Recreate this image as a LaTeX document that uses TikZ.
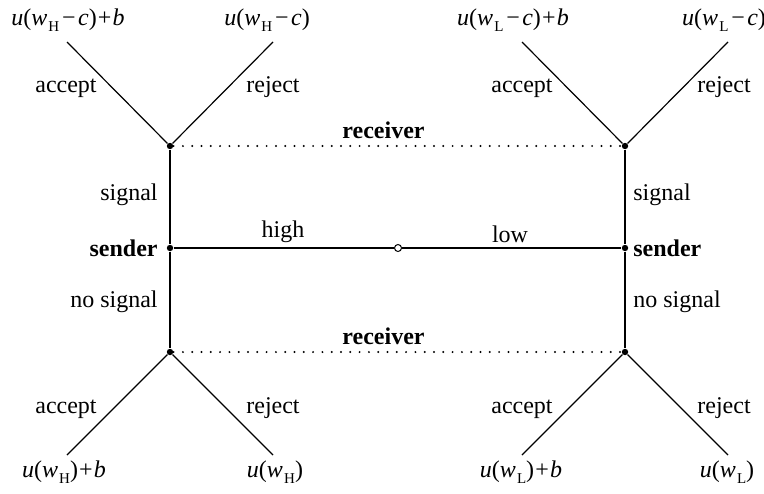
\documentclass[tikz,border=0pt]{standalone}
\usepackage{fontspec}
\setmainfont{Liberation Serif}
\newcommand{\mneg}{\kern0.12em\char"2212\kern0.1em}
\newcommand{\mplus}{\kern0.05em+\kern0.05em}
\newcommand{\sbH}{\kern0.05em\raisebox{-0.55ex}{\fontsize{7.5}{8}\selectfont H}}
\newcommand{\sbL}{\kern0.05em\raisebox{-0.55ex}{\fontsize{7.5}{8}\selectfont L}}
\begin{document}
\begin{tikzpicture}[x=0.5pt,y=-0.5pt,
  every node/.style={font=\fontsize{12}{14}\selectfont},
  lab/.style={inner sep=0pt,anchor=base},
  labe/.style={inner sep=0pt,anchor=base east},
  labw/.style={inner sep=0pt,anchor=base west},
  blab/.style={inner sep=0pt,anchor=base,font=\fontsize{12}{14}\selectfont\bfseries},
  dotn/.style={circle,fill=black,inner sep=0pt,minimum size=3.2pt},
  opendot/.style={circle,draw=black,fill=white,line width=0.5pt,inner sep=0pt,minimum size=3.5pt},
  branch/.style={line width=0.6pt},
  infoset/.style={line width=1.1pt,dash pattern=on 0pt off 4.65pt,line cap=round}]
\useasboundingbox (0,0) rectangle (764,493);
% end points of branches
\coordinate (tla) at (67,42);
\coordinate (tlr) at (273,42);
\coordinate (tra) at (522,42);
\coordinate (trr) at (728,42);
\coordinate (bla) at (67,455);
\coordinate (blr) at (273,455);
\coordinate (bra) at (522,455);
\coordinate (brr) at (728,455);
% decision nodes
\node[dotn] (tl) at (170,146) {};
\node[dotn] (tr) at (625,146) {};
\node[dotn] (ml) at (170,248) {};
\node[dotn] (mr) at (625,248) {};
\node[dotn] (bl) at (170,352) {};
\node[dotn] (br) at (625,352) {};
\node[opendot] (nat) at (398,248) {};
% edges
\draw[branch] (tl) -- (ml) -- (bl);
\draw[branch] (tr) -- (mr) -- (br);
\draw[branch] (ml) -- (nat) -- (mr);
\draw[branch] (tl) -- (tla);
\draw[branch] (tl) -- (tlr);
\draw[branch] (tr) -- (tra);
\draw[branch] (tr) -- (trr);
\draw[branch] (bl) -- (bla);
\draw[branch] (bl) -- (blr);
\draw[branch] (br) -- (bra);
\draw[branch] (br) -- (brr);
\draw[infoset] (tl) -- (tr);
\draw[infoset] (bl) -- (br);
% payoffs
\node[lab] (p1) at (68,25) {\textit{u}(\textit{w}\sbH\mneg\textit{c})\mplus\textit{b}};
\node[lab] (p2) at (267,25) {\textit{u}(\textit{w}\sbH\mneg\textit{c})};
\node[lab] (p3) at (513,25) {\textit{u}(\textit{w}\sbL\mneg\textit{c})\mplus\textit{b}};
\node[lab] (p4) at (724,25) {\textit{u}(\textit{w}\sbL\mneg\textit{c})};
\node[lab] (p5) at (64,477) {\textit{u}(\textit{w}\sbH)\mplus\textit{b}};
\node[lab] (p6) at (275,477) {\textit{u}(\textit{w}\sbH)};
\node[lab] (p7) at (521,477) {\textit{u}(\textit{w}\sbL)\mplus\textit{b}};
\node[lab] (p8) at (727,477) {\textit{u}(\textit{w}\sbL)};
% action labels
\node[lab] (a1) at (66,92) {accept};
\node[lab] (r1) at (273,92) {reject};
\node[lab] (a2) at (522,92) {accept};
\node[lab] (r2) at (724,92) {reject};
\node[lab] (a3) at (66,413) {accept};
\node[lab] (r3) at (273,413) {reject};
\node[lab] (a4) at (522,413) {accept};
\node[lab] (r4) at (724,413) {reject};
% player labels
\node[blab] (rec1) at (383.5,138) {receiver};
\node[blab] (rec2) at (383.5,344) {receiver};
\node[labe] (s1) at (158,200) {signal};
\node[labe,font=\fontsize{12}{14}\selectfont\bfseries] (snd1) at (158,256) {sender};
\node[labe] (ns1) at (158,307) {no signal};
\node[labw] (s2) at (633,200) {signal};
\node[labw,font=\fontsize{12}{14}\selectfont\bfseries] (snd2) at (633,256) {sender};
\node[labw] (ns2) at (633,307) {no signal};
\node[lab] (hi) at (283,237) {high};
\node[lab] (lo) at (510,242) {low};
\end{tikzpicture}
\end{document}
